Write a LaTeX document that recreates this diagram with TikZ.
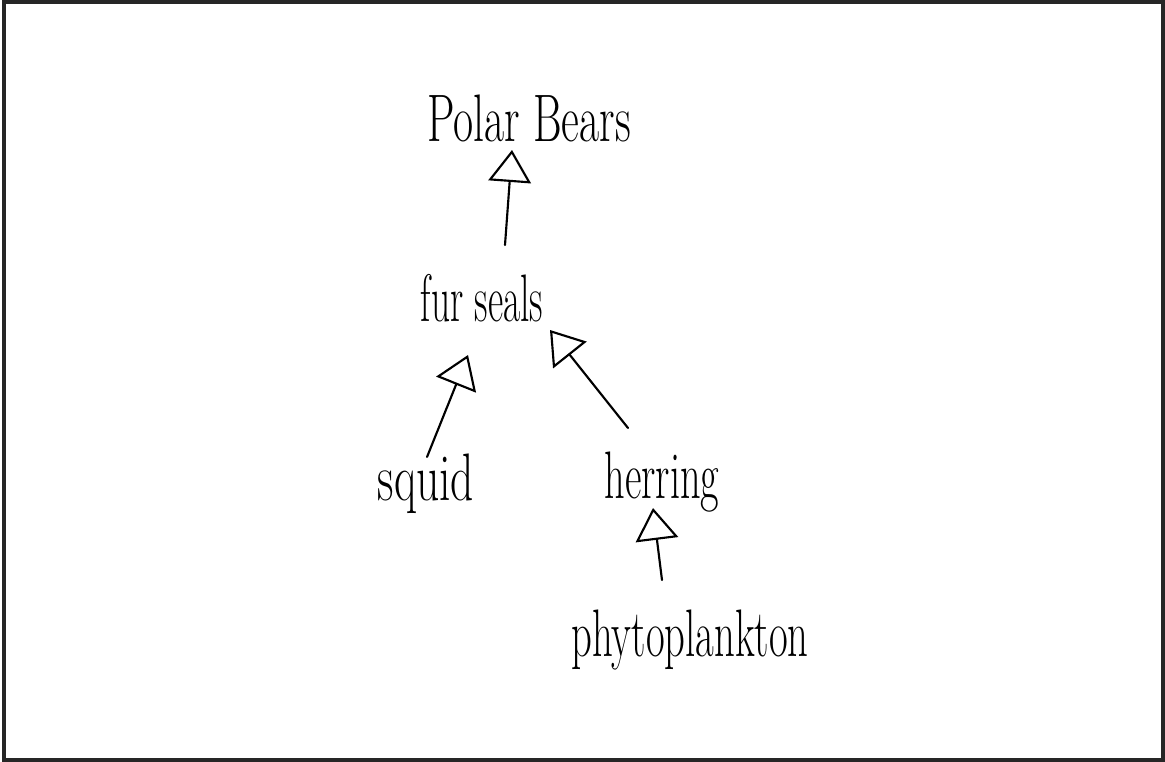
\documentclass[tikz,border=0pt]{standalone}
\usetikzlibrary{arrows.meta}
\begin{document}
\begin{tikzpicture}[x=0.75pt,y=-0.75pt,
  lbl/.style={inner sep=0pt, font=\fontsize{28}{30}\selectfont},
  feeds/.style={line width=1.6pt, -{Triangle[open, length=24pt, width=32pt, line width=1.6pt]}, line cap=round}]
\useasboundingbox (0,0) rectangle (1165,762);
\draw[line width=2.6pt, black!85] (4,2) rectangle (1163,760);
\node[lbl] (bears) at (529,118) {\scalebox{1.17}[1.8]{Polar Bears}};
\node[lbl] (seals) at (482,298) {\scalebox{1}[1.8]{fur seals}};
\node[lbl] (squid) at (426,484) {\scalebox{1.22}[1.8]{squid}};
\node[lbl] (herring) at (662,482) {\scalebox{1.08}[1.8]{herring}};
\node[lbl] (phyto) at (690,640) {\scalebox{1.09}[1.8]{phytoplankton}};
\coordinate (t1) at (505,245); \coordinate (h1) at (512,150);
\coordinate (t2) at (427,457); \coordinate (h2) at (468,355);
\coordinate (t3) at (628,428); \coordinate (h3) at (550,330);
\coordinate (t4) at (662,580); \coordinate (h4) at (653,508);
\draw[feeds] (t1) -- (h1);
\draw[feeds] (t2) -- (h2);
\draw[feeds] (t3) -- (h3);
\draw[feeds] (t4) -- (h4);
\end{tikzpicture}
\end{document}
